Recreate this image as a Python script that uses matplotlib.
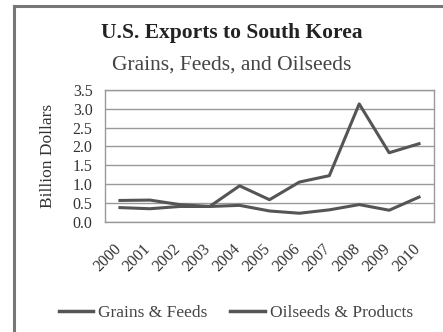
import matplotlib
matplotlib.use("Agg")
import matplotlib.pyplot as plt
import matplotlib.transforms as mtransforms
from matplotlib.lines import Line2D

years = ["2000", "2001", "2002", "2003", "2004", "2005", "2006", "2007", "2008", "2009", "2010"]
grains_feeds = [0.56, 0.57, 0.45, 0.40, 0.95, 0.58, 1.05, 1.22, 3.13, 1.83, 2.07]
oilseeds_products = [0.37, 0.34, 0.40, 0.40, 0.43, 0.28, 0.22, 0.31, 0.45, 0.30, 0.65]
yticks = [0.0, 0.5, 1.0, 1.5, 2.0, 2.5, 3.0, 3.5]

plt.rcParams['font.family'] = ['Liberation Serif', 'DejaVu Serif']

W, H = 443, 332
fig = plt.figure(figsize=(W / 100, H / 100), dpi=100)
fig.patch.set_facecolor('white')

ax = fig.add_axes([105 / W, 1 - 221.5 / H, (434 - 105) / W, (221.5 - 90) / H])

line_color = '#555555'
x = list(range(len(years)))
ax.plot(x, grains_feeds, color=line_color, lw=2.2, label='Grains & Feeds')
ax.plot(x, oilseeds_products, color=line_color, lw=2.2, label='Oilseeds & Products')

ax.set_xlim(-0.5, len(years) - 0.5)
ax.set_ylim(0, 3.5)
ax.set_yticks(yticks)
ax.set_yticklabels([f"{v:.1f}" for v in yticks], fontsize=11.5, color='#333333')
ax.set_xticks(x)
ax.set_xticklabels(years, rotation=45, ha='right', va='top', rotation_mode='anchor',
                   fontsize=11.5, color='#333333')
ax.tick_params(axis='y', length=0, pad=9)
ax.tick_params(axis='x', length=0, pad=14)
offset = mtransforms.ScaledTranslation(-7 / 100, 0, fig.dpi_scale_trans)
for lab in ax.get_xticklabels():
    lab.set_transform(lab.get_transform() + offset)
ax.grid(axis='y', color='#999999', lw=1.0)
ax.set_axisbelow(True)
for s in ax.spines.values():
    s.set_color('#999999')
    s.set_linewidth(1.0)

ax.set_ylabel('Billion Dollars', fontsize=12.5, color='#333333', labelpad=12)

fig.text(232 / W, 1 - 33 / H, 'U.S. Exports to South Korea', ha='center', va='center',
         fontsize=15.5, fontweight='bold', color='#222222')
fig.text(232 / W, 1 - 65 / H, 'Grains, Feeds, and Oilseeds', ha='center', va='center',
         fontsize=15.5, color='#444444')

handles = [Line2D([0], [0], color=line_color, lw=2.5),
           Line2D([0], [0], color=line_color, lw=2.5)]
fig.legend(handles, ['Grains & Feeds', 'Oilseeds & Products'], loc='center',
           bbox_to_anchor=(236 / W, 1 - 313 / H), ncol=2, frameon=False,
           fontsize=12.5, handlelength=2.0, handletextpad=0.3, columnspacing=1.3,
           labelcolor='#444444')

# outer frame (left and top edges visible)
fig.add_artist(Line2D([13.5 / W, 13.5 / W], [0, 1 - 5.5 / H], transform=fig.transFigure,
                      color='#777777', lw=2.2))
fig.add_artist(Line2D([13.5 / W, 1], [1 - 5.5 / H, 1 - 5.5 / H], transform=fig.transFigure,
                      color='#777777', lw=2.2))

fig.savefig('out.png', dpi=100, facecolor='white')
